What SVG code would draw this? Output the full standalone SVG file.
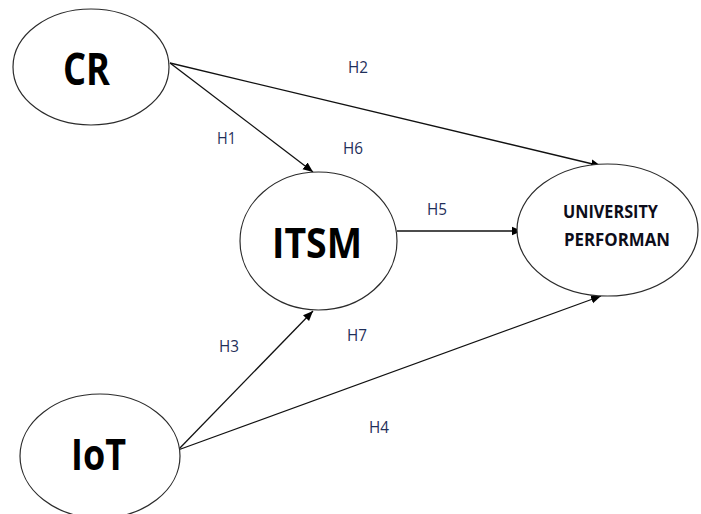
<svg xmlns="http://www.w3.org/2000/svg" width="701" height="514" viewBox="0 0 701 514">
  <style>
    .node { fill: #ffffff; stroke: #2b2b2b; stroke-width: 1.2; }
    .big { font-family: "Open Sans", "Liberation Sans", sans-serif; font-weight: 700; fill: #000000; }
    .mid { font-family: "Open Sans", "Liberation Sans", sans-serif; font-weight: 700; font-size: 17px; fill: #0d0d1a; }
    .hyp { font-family: "Open Sans", "Liberation Sans", sans-serif; font-size: 16.5px; fill: #1f2f5a; }
    .edge { stroke: #111111; stroke-width: 1.3; fill: none; marker-end: url(#arrow); }
  </style>
  <defs>
    <marker id="arrow" viewBox="0 0 10 10" refX="10" refY="5" markerWidth="10" markerHeight="10" markerUnits="userSpaceOnUse" orient="auto">
      <path d="M0,0.8 L10,5 L0,9.2 Z" fill="#000000"/>
    </marker>
  </defs>
  <rect width="701" height="514" fill="#ffffff"/>

  <!-- connectors -->
  <g id="connectors">
    <line class="edge" x1="170" y1="63" x2="313" y2="172"/>
    <line class="edge" x1="170" y1="63" x2="601" y2="166"/>
    <line class="edge" x1="397" y1="231" x2="522" y2="231"/>
    <line class="edge" x1="178" y1="450" x2="313" y2="311"/>
    <line class="edge" x1="178" y1="450" x2="601" y2="296"/>
  </g>

  <!-- hypothesis labels -->
  <g id="labels">
    <text class="hyp" x="348" y="73" textLength="20" lengthAdjust="spacingAndGlyphs">H2</text>
    <text class="hyp" x="217" y="144" textLength="19" lengthAdjust="spacingAndGlyphs">H1</text>
    <text class="hyp" x="343" y="154" textLength="20" lengthAdjust="spacingAndGlyphs">H6</text>
    <text class="hyp" x="427" y="215" textLength="20" lengthAdjust="spacingAndGlyphs">H5</text>
    <text class="hyp" x="219" y="352" textLength="20" lengthAdjust="spacingAndGlyphs">H3</text>
    <text class="hyp" x="347" y="341" textLength="20" lengthAdjust="spacingAndGlyphs">H7</text>
    <text class="hyp" x="369" y="433" textLength="20" lengthAdjust="spacingAndGlyphs">H4</text>
  </g>

  <g id="node-cr">
    <ellipse class="node" cx="91" cy="67" rx="78" ry="58"/>
    <text class="big" x="63" y="85" font-size="44" textLength="47" lengthAdjust="spacingAndGlyphs">CR</text>
  </g>

  <g id="node-itsm">
    <ellipse class="node" cx="318.5" cy="241" rx="78.5" ry="69"/>
    <text class="big" x="272" y="258" font-size="42" textLength="90" lengthAdjust="spacingAndGlyphs">ITSM</text>
  </g>

  <g id="node-university">
    <ellipse class="node" cx="607.5" cy="230" rx="90.5" ry="66"/>
    <text class="mid" x="563" y="218" textLength="95" lengthAdjust="spacingAndGlyphs">UNIVERSITY</text>
    <text class="mid" x="564" y="246" textLength="106" lengthAdjust="spacingAndGlyphs">PERFORMAN</text>
  </g>

  <g id="node-iot">
    <ellipse class="node" cx="100" cy="456" rx="80" ry="62"/>
    <text class="big" x="71" y="470" font-size="43" textLength="55" lengthAdjust="spacingAndGlyphs">IoT</text>
  </g>
</svg>
